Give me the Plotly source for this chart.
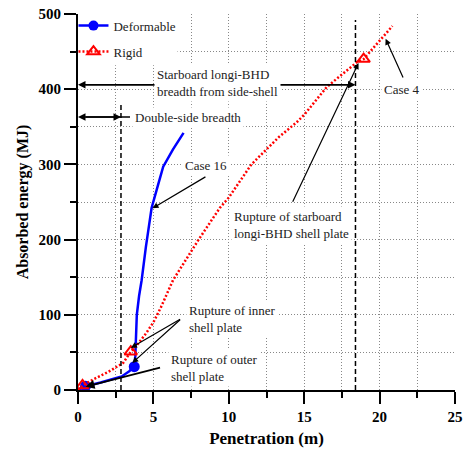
import plotly.graph_objects as go

# ---- data ----
def_x = [0, 0.5, 1.5, 2.9, 3.4, 3.73, 3.8, 3.85, 3.9, 4.05, 4.22, 4.5, 4.88, 5.3, 5.65, 6.3, 7.0]
def_y = [0, 5, 10, 18, 25, 31, 45, 70, 100, 125, 146, 190, 242, 272, 297, 320, 342]
def_mx = [0.5, 3.73]
def_my = [5, 31]

rig_x = [0, 0.3, 1.0, 2.0, 3.0, 3.5, 4.0, 4.5, 5.0, 5.5, 6.3, 7.0, 8.0, 9.4, 10.0, 11.5, 13.3, 14.5, 15.0, 16.5, 17.5, 18.5, 18.94, 19.9, 20.85]
rig_y = [0, 6, 14, 24, 36, 51, 62, 75, 90, 110, 146, 168, 200, 242, 256, 300, 336, 356, 366, 403, 420, 436, 440, 462, 484]
rig_mx = [0.3, 3.5, 18.94]
rig_my = [6, 51, 440]

x_ticks = [0, 5, 10, 15, 20, 25]
y_ticks = [0, 100, 200, 300, 400, 500]

FONT = "Liberation Serif"

fig = go.Figure()

# Deformable
fig.add_trace(go.Scatter(x=def_x, y=def_y, mode="lines", line=dict(color="#0000ff", width=2.5),
                         showlegend=False))
fig.add_trace(go.Scatter(x=def_mx, y=def_my, mode="markers",
                         marker=dict(symbol="circle", size=11, color="#0000ff"), showlegend=False))
fig.add_trace(go.Scatter(x=[None], y=[None], mode="lines+markers", name="Deformable",
                         line=dict(color="#0000ff", width=2.5),
                         marker=dict(symbol="circle", size=10, color="#0000ff"), legend="legend"))
# Rigid
fig.add_trace(go.Scatter(x=rig_x, y=rig_y, mode="lines", line=dict(color="#ff0000", width=2.5, dash="2px,2px"),
                         showlegend=False))
fig.add_trace(go.Scatter(x=rig_mx, y=rig_my, mode="markers",
                         marker=dict(symbol="triangle-up-open", size=11, color="#ff0000", line=dict(width=2)),
                         showlegend=False))
fig.add_trace(go.Scatter(x=[None], y=[None], mode="lines+markers", name="Rigid",
                         line=dict(color="#ff0000", width=2.5, dash="2px,2px"),
                         marker=dict(symbol="triangle-up-open", size=11, color="#ff0000", line=dict(width=2)),
                         legend="legend2"))

# white block behind legend (hides grid)
fig.add_shape(type="rect", x0=0, x1=6.6, y0=432, y1=500, fillcolor="white", line=dict(width=0), layer="between")
# dashed vertical lines
fig.add_shape(type="line", x0=2.85, x1=2.85, y0=0, y1=381, line=dict(color="black", width=1.5, dash="5px,3px"))
fig.add_shape(type="line", x0=18.4, x1=18.4, y0=0, y1=492, line=dict(color="black", width=1.5, dash="5px,3px"))

ann = []
def arrow(x, y, ax, ay, w=1.2):
    ann.append(dict(x=x, y=y, ax=ax, ay=ay, xref="x", yref="y", axref="x", ayref="y", text="",
                    showarrow=True, arrowhead=2, arrowsize=1, arrowwidth=w, arrowcolor="black",
                    standoff=0, startstandoff=0))

def label(x, y, text, xanchor="left", align="left"):
    ann.append(dict(x=x, y=y, xref="x", yref="y", text=text, showarrow=False, xanchor=xanchor,
                    yanchor="middle", align=align, bgcolor="white", borderpad=2,
                    font=dict(family=FONT, size=13, color="#222")))

# arrows
arrow(18.4, 406, 0.4, 406, 1.5)
arrow(0, 406, 18.0, 406, 1.5)
arrow(0, 363, 3.55, 363, 1.5)
arrow(2.85, 363, 0.4, 363, 1.5)
arrow(4.94, 241.6, 8.55, 284.6)
arrow(20.4, 467, 21.6, 413.6)
arrow(18.6, 434.8, 14.19, 248.3)
arrow(3.51, 56, 6.87, 95.3)
arrow(3.6, 36, 6.87, 95.3)
arrow(0.5, 4.4, 5.54, 30.2, 1.8)

# labels
label(5.05, 407.6, "Starboard longi-BHD<br>breadth from side-shell")
label(3.55, 363, "Double-side breadth")
label(8.48, 298, "Case 16", xanchor="center", align="center")
label(21.46, 399, "Case 4", xanchor="center", align="center")
label(10.15, 218.8, "Rupture of starboard<br>longi-BHD shell plate")
label(7.15, 94.4, "Rupture of inner<br>shell plate")
label(5.98, 29, "Rupture of outer<br>shell plate")

fig.update_layout(
    width=466, height=450,
    margin=dict(l=78, r=11, t=14, b=60),
    paper_bgcolor="white", plot_bgcolor="white",
    font=dict(family=FONT, color="black"),
    annotations=ann,
    legend=dict(x=-0.012, y=0.969, xanchor="left", yanchor="middle", bgcolor="rgba(0,0,0,0)",
                font=dict(family=FONT, size=13, color="#222")),
    legend2=dict(x=-0.012, y=0.90, xanchor="left", yanchor="middle", bgcolor="rgba(0,0,0,0)",
                 font=dict(family=FONT, size=13, color="#222")),
    xaxis=dict(range=[0, 25], tickvals=x_ticks, ticks="outside", ticklen=12, tickwidth=2,
               tickcolor="black", showline=True, linecolor="black", linewidth=2, automargin=False,
               showgrid=True, gridcolor="#888", griddash="1px,2px", gridwidth=1, zeroline=False,
               minor=dict(dtick=2.5, ticks="outside", ticklen=6, tickwidth=2, tickcolor="black",
                          showgrid=True, gridcolor="#888", griddash="1px,2px", gridwidth=1),
               tickfont=dict(family=FONT, size=15, weight="bold"),
               title=dict(text="Penetration (m)", font=dict(family=FONT, size=17, weight="bold"), standoff=8)),
    yaxis=dict(range=[0, 500], tickvals=y_ticks, ticks="outside", ticklen=12, tickwidth=2,
               tickcolor="black", showline=True, linecolor="black", linewidth=2, automargin=False,
               showgrid=True, gridcolor="#888", griddash="1px,2px", gridwidth=1, zeroline=False,
               minor=dict(dtick=50, ticks="outside", ticklen=6, tickwidth=2, tickcolor="black",
                          showgrid=True, gridcolor="#888", griddash="1px,2px", gridwidth=1),
               tickfont=dict(family=FONT, size=15, weight="bold"),
               title=dict(text="Absorbed energy (MJ)", font=dict(family=FONT, size=16, weight="bold"), standoff=6)),
)

fig.write_html("out.html")
